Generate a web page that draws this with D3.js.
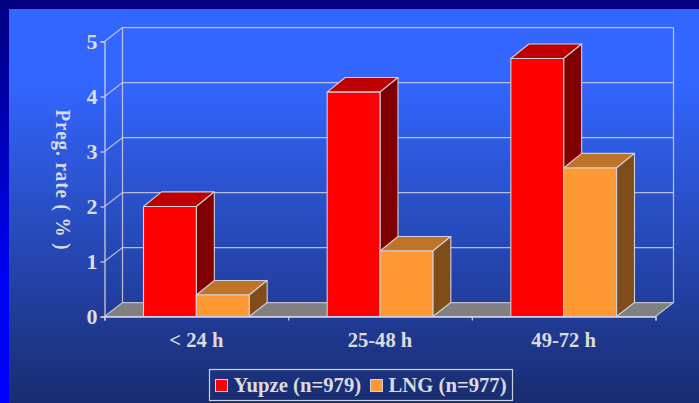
<!DOCTYPE html>
<html>
<head>
<meta charset="utf-8">
<script src="https://cdn.jsdelivr.net/npm/d3@7/dist/d3.min.js"></script>
<style>
html,body{margin:0;padding:0;background:#000080;}
svg{display:block;}
text{font-family:"Liberation Serif",serif;font-weight:bold;fill:#dcdcdc;}
</style>
</head>
<body>
<svg id="chart" width="699" height="403"></svg>
<script>
const categories = ["< 24 h", "25-48 h", "49-72 h"];
const seriesNames = ["Yupze (n=979)", "LNG (n=977)"];
const yupzeValues = [2.0, 4.08, 4.69];
const lngValues = [0.39, 1.19, 2.7];
const yTicks = [0, 1, 2, 3, 4, 5];
const faceColors = [
  {front: "#ff0000", top: "#bf0000", side: "#800000"},
  {front: "#ff9933", top: "#bf7326", side: "#804d1a"}
];
const lineColor = "#d0d0dc";

const width = 699, height = 403;
const frameSize = 9;
const depthX = 18, depthY = 14;
const barDepthY = 14.6;

const x = d3.scaleBand().domain(categories).range([104.5, 655.5]);
const xBar = d3.scaleBand().domain([0, 1]).range([39, x.bandwidth() - 39]);
const y = d3.scaleLinear().domain([0, 5]).range([316.5, 41.5]);

const svg = d3.select("#chart");
const defs = svg.append("defs");

const panelGrad = defs.append("linearGradient").attr("id", "panel")
  .attr("x1", 0).attr("y1", 0).attr("x2", 0).attr("y2", 1);
panelGrad.append("stop").attr("offset", "0").attr("stop-color", "#3366ff");
panelGrad.append("stop").attr("offset", "0.18").attr("stop-color", "#3366ff");
panelGrad.append("stop").attr("offset", "1").attr("stop-color", "#192c70");

const frameGrad = defs.append("linearGradient").attr("id", "frame")
  .attr("x1", 0).attr("y1", 0).attr("x2", 0).attr("y2", 1);
frameGrad.append("stop").attr("offset", "0").attr("stop-color", "#000080");
frameGrad.append("stop").attr("offset", "0.75").attr("stop-color", "#0000ff");
frameGrad.append("stop").attr("offset", "1").attr("stop-color", "#0000ff");

svg.append("rect").attr("width", width).attr("height", height).attr("fill", "url(#frame)");
svg.append("rect").attr("width", width).attr("height", frameSize).attr("fill", "#000080");
svg.append("rect").attr("x", frameSize).attr("y", frameSize)
  .attr("width", width - frameSize).attr("height", height - frameSize)
  .attr("fill", "url(#panel)");

const pts = a => a.map(p => p.join(",")).join(" ");
const [x0, x1] = x.range();
const y0 = y(0), yMax = y(5);

// floor of the 3D plot box
svg.append("polygon")
  .attr("points", pts([[x0, y0], [x0 + depthX, y0 - depthY], [x1 + depthX, y0 - depthY], [x1, y0]]))
  .attr("fill", "#808080");

// gridlines run up the left wall and along the back wall
const grid = svg.append("g").attr("fill", "none").attr("stroke", lineColor)
  .attr("stroke-width", 1.25).attr("stroke-opacity", 0.85);
grid.selectAll("polyline").data(yTicks).join("polyline")
  .attr("points", d => pts([[x0, y(d)], [x0 + depthX, y(d) - depthY], [x1 + depthX, y(d) - depthY]]));
grid.append("line").attr("x1", x0 + depthX).attr("x2", x0 + depthX).attr("y1", yMax - depthY).attr("y2", y0 - depthY);
grid.append("line").attr("x1", x1 + depthX).attr("x2", x1 + depthX).attr("y1", yMax - depthY).attr("y2", y0 - depthY);
grid.append("line").attr("x1", x1).attr("x2", x1 + depthX).attr("y1", y0).attr("y2", y0 - depthY);

// front axes with ticks
const yAxis = d3.axisLeft(y).tickValues(yTicks).tickFormat(d3.format("d")).tickSize(4).tickPadding(3);
const yAxisG = svg.append("g").attr("transform", `translate(${x0},0)`).call(yAxis);
yAxisG.selectAll("path,line").attr("stroke", lineColor).attr("stroke-width", 1.25);
yAxisG.selectAll("text").style("font-size", "22px");

const xAxis = d3.axisBottom(d3.scaleLinear().domain([0, 3]).range([x0, x1])).tickValues([0, 1, 2, 3]).tickFormat("").tickSize(4);
const xAxisG = svg.append("g").attr("transform", `translate(0,${y0})`).call(xAxis);
xAxisG.selectAll("path,line").attr("stroke", lineColor).attr("stroke-width", 1.25);

svg.append("g").selectAll("text").data(categories).join("text")
  .attr("x", d => x(d) + x.bandwidth() / 2)
  .attr("y", 347)
  .attr("text-anchor", "middle")
  .attr("font-size", 20.6)
  .text(d => d);

// bars: each is a front face plus the top and right faces offset by the box depth
const bars = [yupzeValues, lngValues].flatMap((vals, s) =>
  vals.map((v, i) => ({s, v, cat: categories[i]})));
const barG = svg.append("g").attr("stroke", lineColor).attr("stroke-width", 1.1).attr("stroke-linejoin", "round");
bars.forEach(b => {
  const l = x(b.cat) + xBar(b.s), r = l + xBar.bandwidth(), t = y(b.v);
  const c = faceColors[b.s];
  barG.append("polygon").attr("fill", c.top)
    .attr("points", pts([[l, t], [l + depthX, t - barDepthY], [r + depthX, t - barDepthY], [r, t]]));
  barG.append("polygon").attr("fill", c.side)
    .attr("points", pts([[r, t], [r + depthX, t - barDepthY], [r + depthX, y0 - depthY], [r, y0]]));
  barG.append("rect").attr("fill", c.front).attr("x", l).attr("y", t).attr("width", r - l).attr("height", y0 - t);
});
// baseline redrawn above the bars
svg.append("line").attr("x1", x0).attr("x2", x1).attr("y1", y0).attr("y2", y0)
  .attr("stroke", lineColor).attr("stroke-width", 1.25);

// axis title, reading top to bottom
svg.append("text")
  .attr("transform", "translate(56,180) rotate(90) scale(1,1.15)")
  .attr("text-anchor", "middle")
  .attr("font-size", 19)
  .attr("letter-spacing", 0.95)
  .text("Preg. rate ( % )");

// legend
const legend = svg.append("g");
legend.append("rect").attr("x", 209.5).attr("y", 369.5).attr("width", 303).attr("height", 31)
  .attr("fill", "none").attr("stroke", lineColor).attr("stroke-width", 1.2);
const legendX = [215.5, 370.5];
seriesNames.forEach((name, i) => {
  legend.append("rect").attr("x", legendX[i]).attr("y", 379.5).attr("width", 12).attr("height", 12)
    .attr("fill", faceColors[i].front).attr("stroke", lineColor);
  legend.append("text").attr("x", legendX[i] + 18).attr("y", 392)
    .attr("font-size", 20.7).text(name);
});
</script>
</body>
</html>
